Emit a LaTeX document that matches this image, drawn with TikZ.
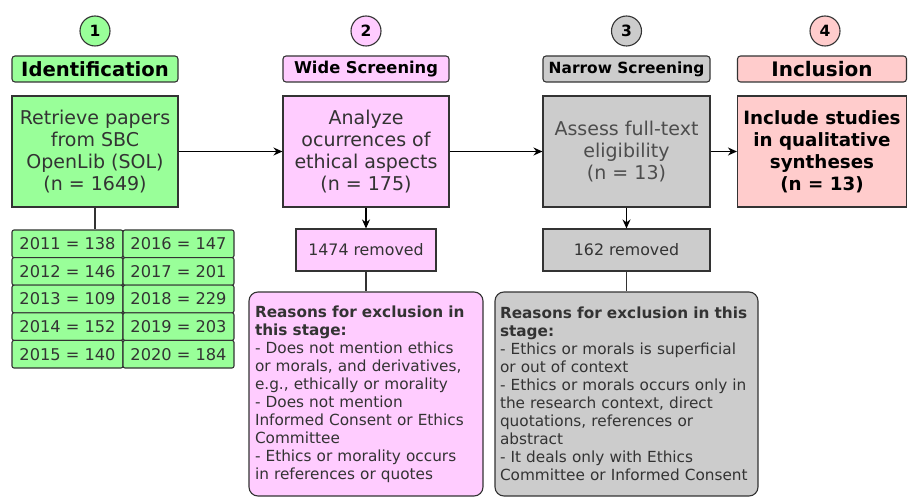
\documentclass[tikz,border=0pt]{standalone}
\usepackage{fontspec}
\setmainfont{DejaVu Sans}
\usetikzlibrary{arrows.meta}
\definecolor{idgreen}{HTML}{99FF99}
\definecolor{widepink}{HTML}{FFCCFF}
\definecolor{narrowgray}{HTML}{CCCCCC}
\definecolor{inclred}{HTML}{FFCCCC}
\definecolor{edgecol}{HTML}{333333}
\definecolor{txtcol}{HTML}{333333}
\definecolor{softtxt}{HTML}{4D4D4D}

\begin{document}
\begin{tikzpicture}[x=1pt,y=-1pt,line width=1.1pt,
  stepnum/.style={circle,draw=edgecol,minimum size=30pt,inner sep=0pt,font=\fontsize{15.5}{17}\selectfont\bfseries},
  phase/.style={draw=edgecol,rounded corners=3pt,minimum height=26pt,inner sep=0pt,font=\bfseries},
  mainbox/.style={draw=edgecol,minimum height=111pt,inner sep=0pt,align=center,font=\fontsize{19}{22}\selectfont,text=txtcol},
  yearbox/.style={draw=edgecol,fill=idgreen,rounded corners=2pt,minimum width=111pt,minimum height=27.6pt,inner sep=0pt,font=\fontsize{16.2}{18}\selectfont,text=txtcol},
  removed/.style={draw=edgecol,minimum height=42pt,inner sep=0pt,font=\fontsize{15.8}{18}\selectfont,text=txtcol},
  reasons/.style={draw=edgecol,rounded corners=9pt,minimum height=204pt,inner sep=0pt,align=left,font=\fontsize{15.3}{18}\selectfont,text=txtcol},
  flow/.style={-{Stealth[length=9pt,width=8pt]},draw=black},
  link/.style={draw=edgecol}
]
\useasboundingbox (0,0) rectangle (908,497);

% Identification
\node[stepnum,fill=idgreen] (c1) at (95,31) {1};
\node[phase,fill=idgreen,minimum width=166pt,font=\fontsize{19.6}{22}\selectfont\bfseries] (h1) at (95,69) {Identification};
\node[mainbox,fill=idgreen,minimum width=166pt] (b1) at (95,151.5) {Retrieve papers\\from SBC\\OpenLib (SOL)\\(n = 1649)};
\foreach \yr/\cnt [count=\i from 0] in {2011/138,2012/146,2013/109,2014/152,2015/140}
  \node[yearbox] (y\yr) at (67.5,{243.8+27.6*\i}) {\yr{} = \cnt};
\foreach \yr/\cnt [count=\i from 0] in {2016/147,2017/201,2018/229,2019/203,2020/184}
  \node[yearbox] (y\yr) at (178.5,{243.8+27.6*\i}) {\yr{} = \cnt};
\draw[link] (b1.south) -- (b1.south |- y2011.north);

% Wide screening
\node[stepnum,fill=widepink] (c2) at (366,31) {2};
\node[phase,fill=widepink,minimum width=166pt,font=\fontsize{16.3}{18}\selectfont\bfseries] (h2) at (366,69) {Wide Screening};
\node[mainbox,fill=widepink,minimum width=166pt] (b2) at (366,151.5) {Analyze\\ocurrences of\\ethical aspects\\(n = 175)};
\node[removed,fill=widepink,minimum width=140pt] (r2) at (366,250) {1474 removed};
\node[reasons,fill=widepink,minimum width=234pt,text width=222pt] (e2) at (366,394)
  {\textbf{Reasons for exclusion in}\\\textbf{this stage:}\\- Does not mention ethics\\or morals, and derivatives,\\e.g., ethically or morality\\- Does not mention\\Informed Consent or Ethics\\Committee\\- Ethics or morality occurs\\in references or quotes};
\draw[flow] (b2.south) -- (r2.north);
\draw[link] (r2.south) -- (e2.north);

% Narrow screening
\node[stepnum,fill=narrowgray] (c3) at (626.5,31) {3};
\node[phase,fill=narrowgray,minimum width=167pt,font=\fontsize{15.4}{17}\selectfont\bfseries] (h3) at (626.5,69) {Narrow Screening};
\node[mainbox,fill=narrowgray,minimum width=167pt,text=softtxt] (b3) at (626.5,151.5) {Assess full-text\\eligibility\\(n = 13)};
\node[removed,fill=narrowgray,minimum width=167pt] (r3) at (626.5,250) {162 removed};
\node[reasons,fill=narrowgray,minimum width=263pt,text width=253pt] (e3) at (626.5,394)
  {\textbf{Reasons for exclusion in this}\\\textbf{stage:}\\- Ethics or morals is superficial\\or out of context\\- Ethics or morals occurs only in\\the research context, direct\\quotations, references or\\abstract\\- It deals only with Ethics\\Committee or Informed Consent};
\draw[flow] (b3.south) -- (r3.north);
\draw[link] (r3.south) -- (e3.north);

% Inclusion
\node[stepnum,fill=inclred] (c4) at (825,31) {4};
\node[phase,fill=inclred,minimum width=169pt,font=\fontsize{20}{22}\selectfont\bfseries] (h4) at (822,69) {Inclusion};
\node[mainbox,fill=inclred,minimum width=169pt,text=black,font=\fontsize{18.3}{22}\selectfont\bfseries] (b4) at (822,151.5) {Include studies\\in qualitative\\syntheses\\(n = 13)};

% flow between stages
\draw[flow] (b1.east) -- (b2.west);
\draw[flow] (b2.east) -- (b3.west);
\draw[flow] (b3.east) -- (b4.west);
\end{tikzpicture}
\end{document}
